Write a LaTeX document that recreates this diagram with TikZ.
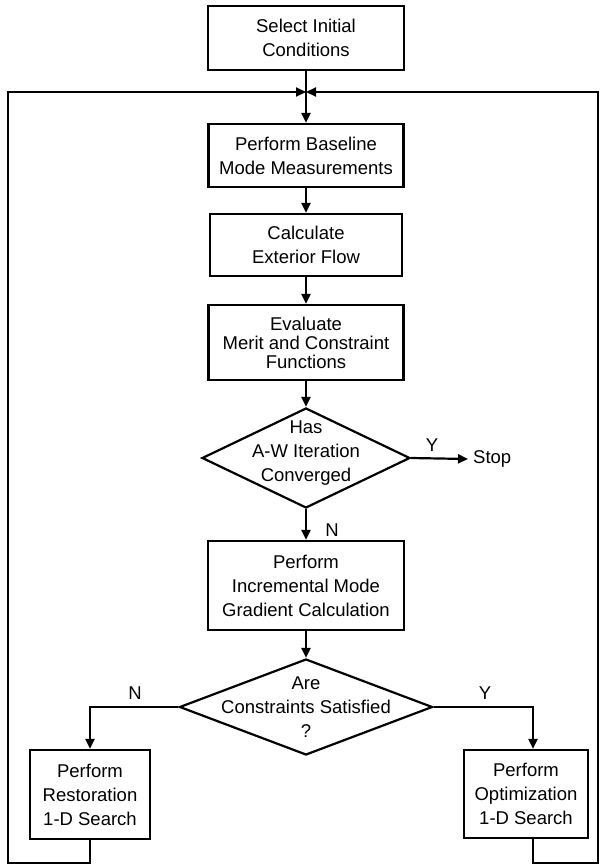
\documentclass[tikz,border=0pt]{standalone}
\usepackage{fontspec}
\setmainfont{Liberation Sans}
\usetikzlibrary{shapes.geometric,arrows.meta}
\begin{document}
\begin{tikzpicture}[x=1pt,y=-1pt,
  every node/.style={font=\fontsize{18.5}{24}\selectfont},
  box/.style={draw,line width=2.2pt,rectangle,inner sep=0pt,align=center},
  dia/.style={draw,line width=2.2pt,diamond,inner sep=0pt},
  txt/.style={align=center,inner sep=0pt},
  arr/.style={line width=2.2pt,-{Triangle[length=10pt,width=9pt]}},
]
\useasboundingbox (0,0) rectangle (603,865);

\node[box,minimum width=196pt,minimum height=64pt] (sel) at (306,38) {Select Initial\\Conditions};
\node[box,minimum width=195pt,minimum height=63pt] (base) at (306,155.5) {Perform Baseline\\Mode Measurements};
\node[box,minimum width=192pt,minimum height=62pt] (calc) at (306,245) {Calculate\\Exterior Flow};
\node[box,minimum width=195pt,minimum height=75pt,font=\fontsize{18.5}{19}\selectfont] (eval) at (306,342.5) {Evaluate\\Merit and Constraint\\Functions};
\node[dia,minimum width=208pt,minimum height=100pt] (d1) at (306,458) {};
\node[txt] (d1t) at ([yshift=5pt]d1.center) {Has\\A-W Iteration\\Converged};
\node[box,minimum width=196pt,minimum height=89pt] (inc) at (306,585.5) {Perform\\Incremental Mode\\Gradient Calculation};
\node[dia,minimum width=253pt,minimum height=96pt] (d2) at (306,707) {};
\node[txt] (d2t) at (d2.center) {Are\\Constraints Satisfied\\?};
\node[box,minimum width=120pt,minimum height=89pt] (rest) at (90,794.5) {Perform\\Restoration\\1-D Search};
\node[box,minimum width=124pt,minimum height=88pt] (opt) at (526,794) {Perform\\Optimization\\1-D Search};

\node[txt,anchor=west] (stop) at (473,459) {Stop};
\node[txt] (y1) at (432,445) {Y};
\node[txt] (n1) at (332,530) {N};
\node[txt] (n2) at (135,693) {N};
\node[txt] (y2) at (485,693) {Y};

\coordinate (j) at (306,92);
\coordinate (lb) at (8,863);
\coordinate (rb) at (598,863);

\draw[arr] (sel.south) -- (base.north);
\draw[arr] (base.south) -- (calc.north);
\draw[arr] (calc.south) -- (eval.north);
\draw[arr] (eval.south) -- (d1.north);
\draw[arr] (d1.south) -- (inc.north);
\draw[arr] (inc.south) -- (d2.north);
\draw[arr] (d1.east) -- ([xshift=-5pt]stop.west);
\draw[arr] (d2.west) -| (rest.north);
\draw[arr] (d2.east) -| ([xshift=7pt]opt.north);
\draw[arr] (rest.south) |- (lb) |- (j);
\draw[arr] ([xshift=7pt]opt.south) |- (rb) |- (j);
\end{tikzpicture}
\end{document}
